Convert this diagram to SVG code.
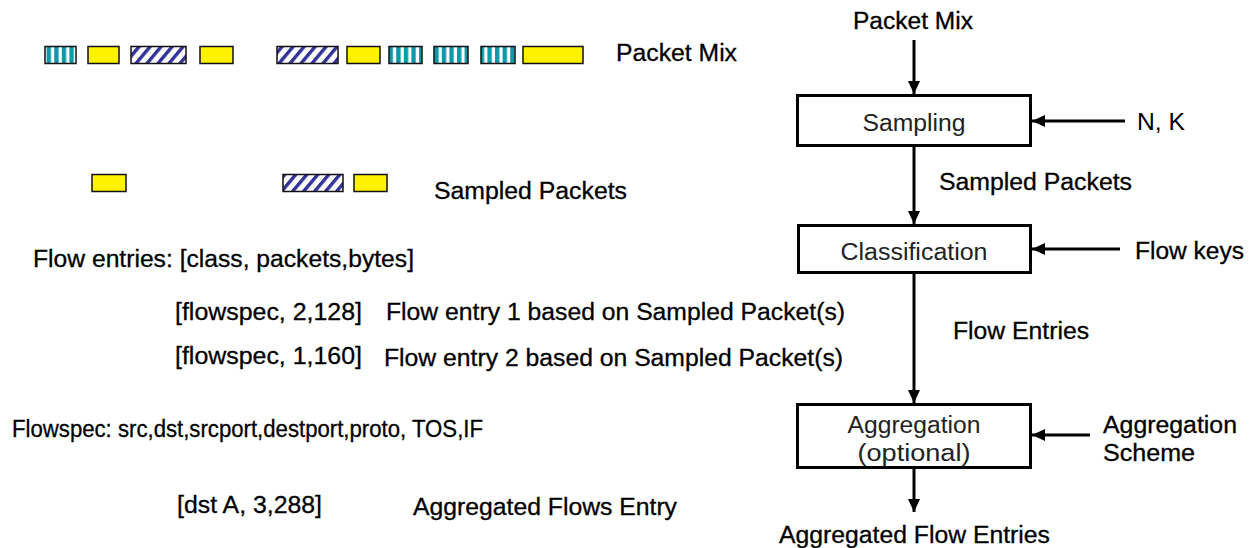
<svg xmlns="http://www.w3.org/2000/svg" width="1256" height="548" viewBox="0 0 1256 548">
  <style>
    text { font-family: "Liberation Sans", Arial, sans-serif; font-size: 23.5px; fill: #000; }
    .lbl { stroke: #000; stroke-width: 0.3; }
    .box-text { fill: #222; }
    .box { fill: #fff; stroke: #000; stroke-width: 3; }
    .pkt { stroke: #111; stroke-width: 1.5; }
    .yellow { fill: #fff200; }
    .striped { fill: url(#vstripes); }
    .hatched { fill: url(#hatch); }
    .conn { stroke: #000; stroke-width: 3; fill: none; marker-end: url(#arrow); }
  </style>
  <defs>
    <pattern id="vstripes" patternUnits="userSpaceOnUse" width="7.6" height="20" x="1">
      <rect width="7.6" height="20" fill="#fff"/>
      <rect x="0" width="4.4" height="20" fill="#0d99a9"/>
    </pattern>
    <pattern id="hatch" patternUnits="userSpaceOnUse" width="11" height="11" patternTransform="skewX(-40)">
      <rect width="11" height="11" fill="#fff"/>
      <rect x="0" width="4.5" height="11" fill="#33339a"/>
    </pattern>
    <marker id="arrow" markerUnits="userSpaceOnUse" markerWidth="14" markerHeight="12" refX="13" refY="6" orient="auto">
      <path d="M0,0 L13,6 L0,12 z" fill="#000"/>
    </marker>
  </defs>

  <!-- packet mix row -->
  <g id="packet-mix-row">
    <rect class="pkt striped" x="45" y="46.5" width="31" height="17"/>
    <rect class="pkt yellow" x="88" y="46.5" width="31" height="17"/>
    <rect class="pkt hatched" x="131" y="46.5" width="55" height="17"/>
    <rect class="pkt yellow" x="200" y="46.5" width="33" height="17"/>
    <rect class="pkt hatched" x="277" y="46.5" width="61" height="17"/>
    <rect class="pkt yellow" x="347" y="46.5" width="33" height="17"/>
    <rect class="pkt striped" x="389" y="46.5" width="33" height="17"/>
    <rect class="pkt striped" x="434" y="46.5" width="34" height="17"/>
    <rect class="pkt striped" x="481" y="46.5" width="34" height="17"/>
    <rect class="pkt yellow" x="523" y="46.5" width="60" height="17"/>
    <text class="lbl" x="616" y="61" textLength="121" lengthAdjust="spacingAndGlyphs">Packet Mix</text>
  </g>

  <!-- sampled packets row -->
  <g id="sampled-row">
    <rect class="pkt yellow" x="92" y="174.5" width="34" height="17"/>
    <rect class="pkt hatched" x="283" y="174.5" width="60" height="17"/>
    <rect class="pkt yellow" x="354" y="174.5" width="33" height="17"/>
    <text class="lbl" x="434" y="199" textLength="193" lengthAdjust="spacingAndGlyphs">Sampled Packets</text>
  </g>

  <!-- flow entry notes -->
  <g id="notes">
    <text class="lbl" x="33" y="267" textLength="381" lengthAdjust="spacingAndGlyphs">Flow entries: [class, packets,bytes]</text>
    <text class="lbl" x="175" y="320" textLength="187" lengthAdjust="spacingAndGlyphs">[flowspec, 2,128]</text>
    <text class="lbl" x="386" y="320" textLength="459" lengthAdjust="spacingAndGlyphs">Flow entry 1 based on Sampled Packet(s)</text>
    <text class="lbl" x="175" y="364" textLength="187" lengthAdjust="spacingAndGlyphs">[flowspec, 1,160]</text>
    <text class="lbl" x="384" y="366" textLength="459" lengthAdjust="spacingAndGlyphs">Flow entry 2 based on Sampled Packet(s)</text>
    <text class="lbl" x="12" y="437" textLength="471" lengthAdjust="spacingAndGlyphs">Flowspec: src,dst,srcport,destport,proto, TOS,IF</text>
    <text class="lbl" x="177" y="513" textLength="145" lengthAdjust="spacingAndGlyphs">[dst A, 3,288]</text>
    <text class="lbl" x="413" y="515" textLength="264" lengthAdjust="spacingAndGlyphs">Aggregated Flows Entry</text>
  </g>

  <!-- processing pipeline -->
  <g id="sampling">
    <rect class="box" x="797.5" y="95.5" width="233" height="50"/>
    <text class="box-text" x="914" y="131" text-anchor="middle" textLength="103" lengthAdjust="spacingAndGlyphs">Sampling</text>
  </g>
  <g id="classification">
    <rect class="box" x="798.5" y="225.5" width="232" height="47"/>
    <text class="box-text" x="914" y="260" text-anchor="middle" textLength="147" lengthAdjust="spacingAndGlyphs">Classification</text>
  </g>
  <g id="aggregation">
    <rect class="box" x="797.5" y="404.5" width="233" height="63"/>
    <text class="box-text" x="914" y="433" text-anchor="middle" textLength="133" lengthAdjust="spacingAndGlyphs">Aggregation</text>
    <text class="box-text" x="914" y="461" text-anchor="middle" textLength="113" lengthAdjust="spacingAndGlyphs">(optional)</text>
  </g>

  <g id="inputs">
    <text class="lbl" x="853" y="29" textLength="120" lengthAdjust="spacingAndGlyphs">Packet Mix</text>
    <text x="1137" y="130" textLength="48" lengthAdjust="spacingAndGlyphs">N, K</text>
    <text class="lbl" x="1135" y="259" textLength="109" lengthAdjust="spacingAndGlyphs">Flow keys</text>
    <text class="lbl" x="1103" y="433" textLength="134" lengthAdjust="spacingAndGlyphs">Aggregation</text>
    <text class="lbl" x="1103" y="461" textLength="92" lengthAdjust="spacingAndGlyphs">Scheme</text>
  </g>

  <g id="edge-labels">
    <text class="lbl" x="939" y="190" textLength="193" lengthAdjust="spacingAndGlyphs">Sampled Packets</text>
    <text class="lbl" x="953" y="339" textLength="136" lengthAdjust="spacingAndGlyphs">Flow Entries</text>
    <text class="lbl" x="779" y="543" textLength="271" lengthAdjust="spacingAndGlyphs">Aggregated Flow Entries</text>
  </g>

  <g id="connectors">
    <line class="conn" x1="914" y1="40" x2="914" y2="94"/>
    <line class="conn" x1="914" y1="147" x2="914" y2="224"/>
    <line class="conn" x1="914" y1="274" x2="914" y2="403"/>
    <line class="conn" x1="914" y1="469" x2="914" y2="512"/>
    <line class="conn" x1="1125" y1="121" x2="1032" y2="121"/>
    <line class="conn" x1="1120" y1="249" x2="1032" y2="249"/>
    <line class="conn" x1="1090" y1="435" x2="1032" y2="435"/>
  </g>
</svg>
